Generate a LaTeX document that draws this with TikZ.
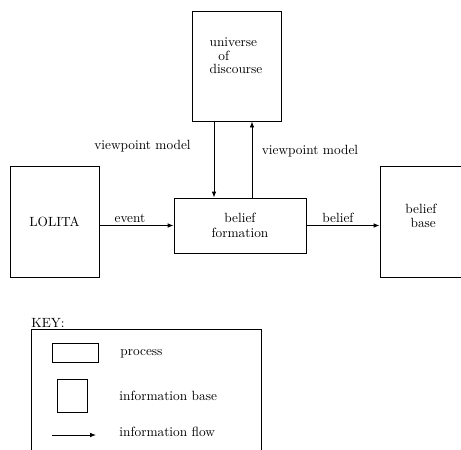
\documentclass[tikz,border=0pt]{standalone}
\usetikzlibrary{arrows.meta,calc}
\begin{document}
\begin{tikzpicture}[x=0.75pt,y=-0.75pt,
  line width=0.65pt,
  box/.style={draw,rectangle,inner sep=0pt,align=center,font=\normalsize},
  flow/.style={-{Latex[length=4.5pt,width=3.5pt]}},
  txt/.style={inner sep=0pt,align=center}]
\path[use as bounding box,clip] (0,0) rectangle (461,450);

% boxes
\node[box,minimum width=89*0.75pt,minimum height=110*0.75pt] (uod) at (236.5,66) {};
\node[txt,align=left] (uodtext) at (236,56) {universe\\[-2pt]\ \ of\\[-2pt]discourse};
\node[box,minimum width=132*0.75pt,minimum height=55*0.75pt] (bf) at (240,225.5) {belief\\[-1pt]formation};
\node[box,minimum width=89*0.75pt,minimum height=111*0.75pt] (lol) at (54.5,221.5) {LOLITA};
\node[box,minimum width=89*0.75pt,minimum height=111*0.75pt] (bb) at (424.5,221.5) {};
\node[txt] (bbtext) at (421,216) {belief\\[-2pt]\ base};

% connectors
\draw[flow] ($(uod.south)+(-22.5,0)$) coordinate (d1) -- (d1 |- bf.north);
\draw[flow] ($(bf.north)+(12,0)$) coordinate (u1) -- (u1 |- uod.south);
\draw[flow] (lol.east |- bf.west) -- (bf.west);
\draw[flow] (bf.east) -- (bf.east -| bb.west);

% connector labels
\node[txt] (vpl) at (142.5,146) {viewpoint model};
\node[txt] (vpr) at (310,151) {viewpoint model};
\node[txt] (ev) at (130,218) {event};
\node[txt] (bl) at (338,218) {belief};

% key
\node[txt,anchor=west] (keyt) at (31,323) {KEY:};
\node[draw,rectangle,inner sep=0pt,minimum width=230*0.75pt,minimum height=140*0.75pt,anchor=north west] (key) at (31,329) {};
\node[box,minimum width=46*0.75pt,minimum height=19*0.75pt] (kp) at (75,352.5) {};
\node[box,minimum width=30*0.75pt,minimum height=33*0.75pt] (ki) at (72,395.5) {};
\coordinate (kfa) at (52,435);
\coordinate (kfb) at (96,435);
\draw[flow] (kfa) -- (kfb);
\node[txt,anchor=west] (kpl) at (120,354) {process};
\node[txt,anchor=west] (kil) at (119,396) {information base};
\node[txt,anchor=west] (kfl) at (119,432) {information flow};
\end{tikzpicture}
\end{document}
